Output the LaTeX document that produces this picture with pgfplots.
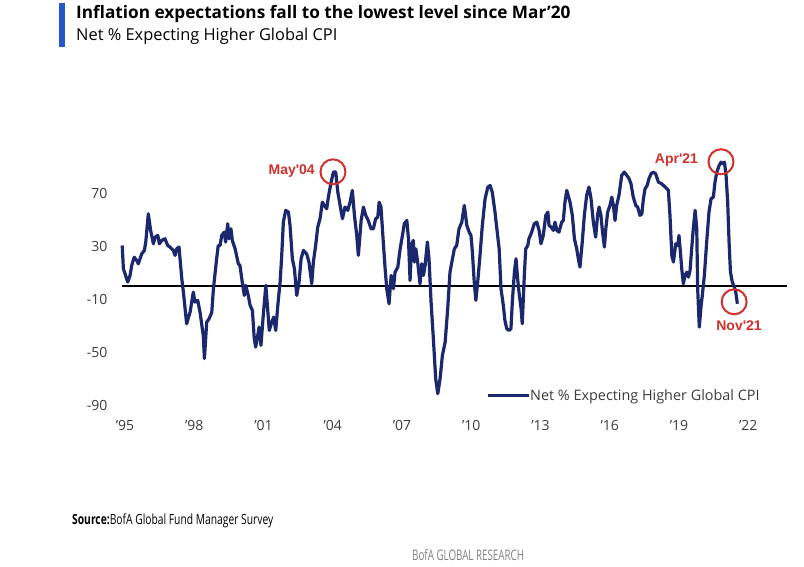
\documentclass[border=0pt]{standalone}
\usepackage{fontspec}
\setmainfont{Open Sans}
\newfontfamily\annfont{Liberation Sans}
\newfontfamily\narrowfont[FakeStretch=0.675]{Open Sans}
\newfontfamily\srcfont[FakeStretch=0.735]{Open Sans}
\usepackage{pgfplots}
\pgfplotsset{compat=1.18}
\definecolor{navy}{RGB}{27,40,110}
\definecolor{annred}{RGB}{208,49,45}
\definecolor{barblue}{RGB}{37,87,200}
\definecolor{tickgray}{RGB}{60,60,60}
\definecolor{srcgray}{RGB}{128,128,128}
\begin{document}
\begin{tikzpicture}[x=1pt,y=1pt]
\useasboundingbox (0,0) rectangle (804,-567);
\fill[white] (0,0) rectangle (804,-567);
\fill[barblue] (59,-3) rectangle (65,-47);
\node[anchor=base west, inner sep=0pt] at (76,-19) {\fontsize{17.2}{19}\selectfont\bfseries Inflation expectations fall to the lowest level since Mar'20};
\node[anchor=base west, inner sep=0pt] at (76,-41) {\fontsize{16.4}{19}\selectfont Net \% Expecting Higher Global CPI};
\node[anchor=base west, inner sep=0pt] at (72,-524) {\srcfont\fontsize{14}{16}\selectfont\textbf{Source:}BofA Global Fund Manager Survey};
\node[anchor=base west, inner sep=0pt, text=srcgray] at (412,-560) {\narrowfont\fontsize{14.5}{16}\selectfont BofA GLOBAL RESEARCH};
\begin{axis}[
  at={(122pt,-405pt)}, anchor=south west,
  scale only axis, width=665pt, height=255.7pt,
  xmin=1994.87, xmax=2023.68, ymin=-90, ymax=103,
  axis line style={draw=none}, major tick length=0pt,
  xtick={1995,1998,...,2022},
  xticklabels={'95,'98,'01,'04,'07,'10,'13,'16,'19,'22},
  ytick={-90,-50,-10,30,70},
  yticklabels={-90,-50,-10,30,70},
  tick label style={font=\fontsize{14}{16}\selectfont, text=tickgray},
  yticklabel style={xshift=-11pt},
  xticklabel style={yshift=-12pt},
  clip=false,
  legend style={at={(axis cs:2010.64,-83)}, anchor=west, draw=none, fill=none,
    inner sep=0pt, outer sep=0pt, font=\fontsize{14.4}{16}\selectfont, text=tickgray,
    nodes={inner sep=0pt}},
  legend image code/.code={\draw[#1] (0pt,0pt) -- (41pt,0pt);},
]
\addplot[black, line width=1.5pt, forget plot] coordinates {(1994.87,0) (2023.68,0)};
\addplot[navy, line width=3.2pt, line join=round] coordinates {
(1994.88,30.4)(1994.93,12.8)(1995.12,2.8)(1995.22,7.8)(1995.29,15.3)(1995.40,21.6)(1995.51,19)(1995.58,16.6)(1995.72,24)(1995.84,26.7)(1995.90,33)(1996.01,54.3)(1996.11,41.8)(1996.23,31.7)(1996.30,36.7)(1996.42,38)(1996.49,31.7)(1996.59,34.2)(1996.73,35.5)(1996.85,30.4)(1996.95,29.2)(1997.09,26.7)(1997.17,22.9)(1997.24,27.9)(1997.34,29.2)(1997.46,5.3)(1997.53,-4.8)(1997.67,-28.7)(1997.82,-19.9)(1997.96,-4.8)(1998.03,-12.3)(1998.15,-11)(1998.25,-19.9)(1998.39,-37.5)(1998.44,-55)(1998.54,-27.4)(1998.64,-25)(1998.76,-20)(1998.83,-2.3)(1998.97,20.4)(1999.04,30.4)(1999.12,30.4)(1999.19,38)(1999.30,40.5)(1999.36,33)(1999.45,46.8)(1999.51,35.5)(1999.59,43)(1999.65,34.2)(1999.77,27.9)(1999.91,16.6)(1999.98,15.3)(2000.08,2.8)(2000.17,-7.3)(2000.23,0.3)(2000.34,-7.3)(2000.42,-14.8)(2000.52,-18.6)(2000.60,-40)(2000.66,-46.3)(2000.75,-37.5)(2000.81,-31.2)(2000.89,-45)(2000.99,-22.4)(2001.10,0.3)(2001.18,-17.4)(2001.25,-33.7)(2001.36,-27.4)(2001.44,-23.6)(2001.53,-33.7)(2001.62,-14.8)(2001.72,2.8)(2001.79,22.9)(2001.86,48)(2001.96,56.9)(2002.08,55.6)(2002.15,45.5)(2002.25,20.4)(2002.34,12.8)(2002.44,-7.3)(2002.54,2.8)(2002.63,20.4)(2002.73,26.7)(2002.87,24)(2002.97,17.9)(2003.09,1.5)(2003.16,17.9)(2003.26,30.4)(2003.35,44.3)(2003.45,50.6)(2003.55,63.1)(2003.64,60.6)(2003.74,58.1)(2003.81,66.9)(2003.93,78.2)(2004.03,85.8)(2004.13,85.8)(2004.22,70.7)(2004.32,60.6)(2004.42,50.6)(2004.53,59.4)(2004.65,56.9)(2004.75,63.1)(2004.85,72)(2004.94,53.1)(2005.04,38)(2005.11,22.9)(2005.23,49.3)(2005.33,59.4)(2005.43,53.1)(2005.54,49.3)(2005.66,43)(2005.76,43)(2005.86,50.6)(2005.95,51.8)(2006.01,63.1)(2006.09,59.4)(2006.19,33)(2006.27,12.8)(2006.34,-2.3)(2006.44,-13.6)(2006.53,7.8)(2006.63,-2.3)(2006.70,10.3)(2006.82,14.1)(2006.92,27.9)(2007.02,38)(2007.10,46.8)(2007.21,49.3)(2007.28,35.5)(2007.35,4)(2007.42,31.7)(2007.49,34.2)(2007.54,17.9)(2007.60,27.9)(2007.68,17.9)(2007.78,1.5)(2007.86,16.6)(2007.93,7.8)(2008.00,15.3)(2008.10,33)(2008.17,20.4)(2008.26,-12.3)(2008.36,-40)(2008.46,-70.2)(2008.55,-81.5)(2008.65,-70.2)(2008.75,-52.6)(2008.87,-42.5)(2008.98,-17.4)(2009.08,10.3)(2009.16,17.9)(2009.27,27.9)(2009.37,30.4)(2009.47,43)(2009.59,48)(2009.70,60.6)(2009.81,45.5)(2009.91,40.5)(2009.99,38)(2010.05,25.4)(2010.13,2.8)(2010.20,-11)(2010.28,2.8)(2010.38,22.9)(2010.48,45.5)(2010.60,65.7)(2010.72,74.5)(2010.82,75.7)(2010.91,70.7)(2011.03,55.6)(2011.11,43)(2011.21,27.9)(2011.29,-2.3)(2011.39,-14.8)(2011.46,-26.2)(2011.54,-32.5)(2011.64,-33.7)(2011.72,-32.5)(2011.78,-12.3)(2011.87,10.3)(2011.94,20.4)(2012.01,5.3)(2012.07,-4.8)(2012.16,-17.4)(2012.21,-28.7)(2012.30,7.8)(2012.36,27.9)(2012.45,30.4)(2012.50,35.5)(2012.62,40.5)(2012.73,46.8)(2012.84,48)(2012.94,41.8)(2013.02,31.7)(2013.12,38)(2013.23,53.1)(2013.32,55.6)(2013.37,45.5)(2013.46,44.3)(2013.56,41.8)(2013.63,48)(2013.71,41.8)(2013.80,40.5)(2013.92,48)(2013.99,49.3)(2014.06,63.1)(2014.14,72)(2014.28,63.1)(2014.38,53.1)(2014.47,35.5)(2014.57,27.9)(2014.64,20.4)(2014.71,14.1)(2014.81,33)(2014.90,53.1)(2015.00,68.2)(2015.10,74.5)(2015.19,65.7)(2015.29,48)(2015.39,36.7)(2015.48,54.3)(2015.54,59.4)(2015.62,53.1)(2015.68,41.8)(2015.77,29.2)(2015.83,43)(2015.91,55.6)(2016.01,60.6)(2016.09,66.9)(2016.16,60.6)(2016.23,49.3)(2016.30,60.6)(2016.40,68.2)(2016.52,83.3)(2016.63,85.8)(2016.74,83.3)(2016.84,80.8)(2016.92,77)(2017.02,66.9)(2017.13,60.6)(2017.21,59.4)(2017.31,53.1)(2017.39,54.3)(2017.46,65.7)(2017.53,73.2)(2017.62,75.7)(2017.70,80.8)(2017.79,84.5)(2017.89,85.8)(2017.99,84.5)(2018.11,78.2)(2018.25,77)(2018.40,74.5)(2018.54,72)(2018.61,53.1)(2018.69,22.9)(2018.76,17.9)(2018.86,31.7)(2018.95,30.4)(2019.00,38)(2019.05,27.9)(2019.12,12.8)(2019.19,1.5)(2019.26,7.8)(2019.34,10.3)(2019.41,6.5)(2019.48,11.6)(2019.55,27.9)(2019.62,43)(2019.70,56.9)(2019.77,43)(2019.81,-2.3)(2019.88,-31.2)(2019.96,-14.8)(2020.01,-7.3)(2020.10,7.8)(2020.20,33)(2020.30,55.6)(2020.39,65.7)(2020.49,66.9)(2020.56,78.2)(2020.64,85.8)(2020.74,90.8)(2020.82,93.3)(2020.90,92)(2020.97,93.3)(2021.04,83.3)(2021.11,63.1)(2021.17,33)(2021.23,10.3)(2021.31,2.8)(2021.40,-1)(2021.46,-4.8)(2021.53,-13.6)
};
\addlegendentry{Net \% Expecting Higher Global CPI}
\addplot[only marks, mark=o, mark size=12.5pt, annred, mark options={line width=2pt}, forget plot]
  coordinates {(2004.01,86) (2020.82,93.6) (2021.39,-12.1)};
\node[anchor=east, inner sep=0pt, text=annred] at (axis cs:2003.23,86.8) {\annfont\bfseries\fontsize{14}{16}\selectfont May'04};
\node[anchor=east, inner sep=0pt, text=annred] at (axis cs:2019.83,94.6) {\annfont\bfseries\fontsize{14}{16}\selectfont Apr'21};
\node[anchor=west, inner sep=0pt, text=annred] at (axis cs:2020.61,-30) {\annfont\bfseries\fontsize{14}{16}\selectfont Nov'21};
\end{axis}
\end{tikzpicture}
\end{document}
